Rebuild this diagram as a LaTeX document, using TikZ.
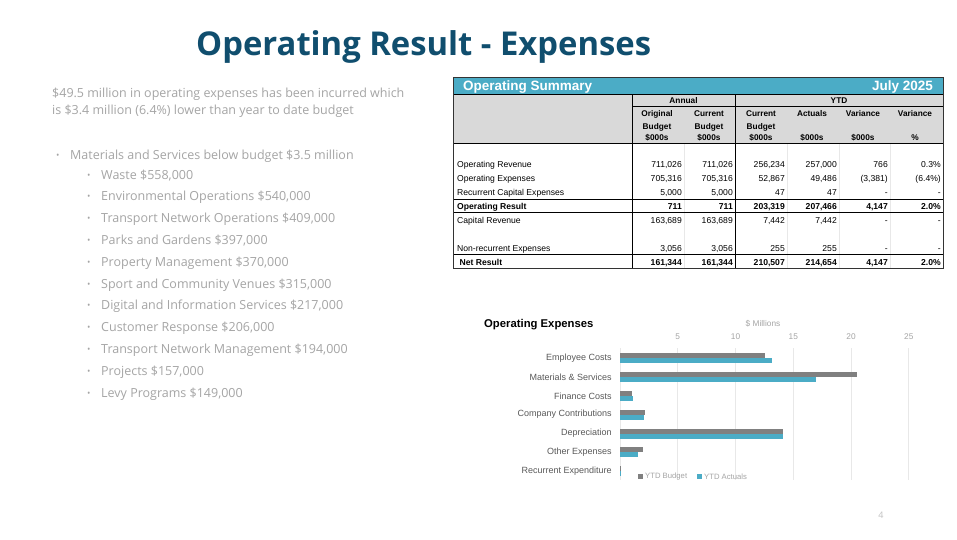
\documentclass[tikz,border=0pt]{standalone}
\usepackage{fontspec}
\setmainfont{Open Sans}
\newfontfamily\tablefont{Liberation Sans}
\usepackage{tikz}
\usetikzlibrary{positioning}

\definecolor{titleblue}{RGB}{16,78,110}
\definecolor{bodygrey}{RGB}{165,165,165}
\definecolor{sumteal}{RGB}{75,172,198}
\definecolor{headgrey}{RGB}{217,217,217}
\definecolor{budgrey}{RGB}{128,128,128}
\definecolor{labgrey}{RGB}{89,89,89}
\definecolor{gridgrey}{RGB}{232,232,232}

% una fila de la tabla: nombre, linea base, etiqueta y seis valores
\newcommand{\sumrow}[9]{%
    \node[rowlab] (#1) at (457,#2) {#3};
    \node[cell] (#1-ob) at (682,#2) {#4};
    \node[cell] (#1-cb) at (733,#2) {#5};
    \node[cell] (#1-cy) at (785,#2) {#6};
    \node[cell] (#1-ac) at (837,#2) {#7};
    \node[cell] (#1-va) at (888,#2) {#8};
    \node[cell] (#1-vp) at (941,#2) {#9};
}

\begin{document}
\begin{tikzpicture}[
    x=1pt, y=-1pt, % una unidad = un pixel, y hacia abajo
    slide/.style={anchor=base west, inner sep=0pt, text=bodygrey, font=\fontsize{12.5}{14}\selectfont}, % texto de la diapositiva
    rowlab/.style={anchor=base west, inner sep=0pt, font=\tablefont\fontsize{8.6}{10}\selectfont}, % etiquetas de fila
    cell/.style={anchor=base east, inner sep=0pt, font=\tablefont\fontsize{8.6}{10}\selectfont}, % celdas numericas
    colhead/.style={anchor=base, inner sep=0pt, font=\tablefont\bfseries\fontsize{8.3}{10}\selectfont}, % cabeceras
    catlab/.style={anchor=east, inner sep=0pt, text=labgrey, font=\tablefont\fontsize{9}{10}\selectfont}, % categorias del grafico
    tick/.style={anchor=center, inner sep=0pt, text=bodygrey, font=\tablefont\fontsize{8.3}{9}\selectfont} % numeros del eje
]
    \useasboundingbox[fill=white] (0,0) rectangle (957,539);

    % --- Titulo ---
    \node[anchor=base west, inner sep=0pt, text=titleblue, font=\bfseries\fontsize{32.8}{38}\selectfont] (title) at (196,55) {Operating Result - Expenses};

    % --- Texto de la izquierda ---
    \node[slide] (intro1) at (52,97) {\$49.5 million in operating expenses has been incurred which};
    \node[slide] (intro2) at (52,114) {is \$3.4 million (6.4\%) lower than year to date budget};
    \node[slide, font=\fontsize{9}{10}\selectfont] (matbul) at (56,158) {\textbullet};
    \node[slide] (mat) at (70,159) {Materials and Services below budget \$3.5 million};
    \foreach \item [count=\i] in {Waste \$558{,}000, Environmental Operations \$540{,}000,
        Transport Network Operations \$409{,}000, Parks and Gardens \$397{,}000,
        Property Management \$370{,}000, Sport and Community Venues \$315{,}000,
        Digital and Information Services \$217{,}000, Customer Response \$206{,}000,
        Transport Network Management \$194{,}000, Projects \$157{,}000, Levy Programs \$149{,}000}
    {
        \node[slide, font=\fontsize{9}{10}\selectfont] (bul\i) at (87,{178+21.8*(\i-1)}) {\textbullet};
        \node[slide] (sub\i) at (101,{179+21.8*(\i-1)}) {\item};
    }

    % --- Tabla: fondos ---
    \fill[sumteal] (453,77) rectangle (943,94); % barra del titulo
    \fill[headgrey] (453,94) rectangle (943,143); % cabecera gris
    \foreach \cx in {684,787,839,890}
        \draw[gridgrey, line width=0.6pt] (\cx,143) -- (\cx,268); % lineas suaves entre columnas

    % --- Tabla: lineas ---
    \draw[line width=0.6pt] (453,94) -- (943,94);
    \draw[line width=0.6pt] (632,106.5) -- (943,106.5);
    \draw[line width=0.6pt] (453,143) -- (943,143);
    \draw[line width=1pt] (453,199.5) -- (943,199.5); % arriba de Operating Result
    \draw[line width=1pt] (453,212) -- (943,212);
    \draw[line width=1pt] (453,254.5) -- (943,254.5); % arriba de Net Result
    \draw[line width=1pt] (632,94) -- (632,268);
    \draw[line width=1pt] (735,94) -- (735,268);
    \draw[line width=1pt, black!80] (453,77) rectangle (943,268); % borde exterior

    % --- Tabla: cabeceras ---
    \node[anchor=base west, inner sep=0pt, text=white, font=\tablefont\bfseries\fontsize{13.5}{15}\selectfont] (sumtitle) at (463,90) {Operating Summary};
    \node[anchor=base east, inner sep=0pt, text=white, font=\tablefont\bfseries\fontsize{13.5}{15}\selectfont] (month) at (933,90) {July 2025};
    \node[colhead] (annual) at (683.5,103) {Annual};
    \node[colhead] (ytd) at (839,103) {YTD};
    \foreach \cx/\ta/\tb/\tc [count=\i] in {657/Original/Budget/\$000s, 709/Current/Budget/\$000s,
        761/Current/Budget/\$000s, 812/Actuals//\$000s, 863/Variance//\$000s, 915/Variance//\%}
    {
        \node[colhead] (h\i a) at (\cx,116.5) {\ta};
        \node[colhead] (h\i b) at (\cx,129) {\tb};
        \node[colhead] (h\i c) at (\cx,140.5) {\tc};
    }

    % --- Tabla: filas ---
    \sumrow{oprev}{167}{Operating Revenue}{711,026}{711,026}{256,234}{257,000}{766}{0.3\%}
    \sumrow{opexp}{181}{Operating Expenses}{705,316}{705,316}{52,867}{49,486}{(3,381)}{(6.4\%)}
    \sumrow{recap}{195}{Recurrent Capital Expenses}{5,000}{5,000}{47}{47}{-}{-}
    \sumrow{opres}{209}{\textbf{Operating Result}}{\textbf{711}}{\textbf{711}}{\textbf{203,319}}{\textbf{207,466}}{\textbf{4,147}}{\textbf{2.0\%}}
    \sumrow{caprev}{223}{Capital Revenue}{163,689}{163,689}{7,442}{7,442}{-}{-}
    \sumrow{nonrec}{251}{Non-recurrent Expenses}{3,056}{3,056}{255}{255}{-}{-}
    \sumrow{netres}{265}{\textbf{\ Net Result}}{\textbf{161,344}}{\textbf{161,344}}{\textbf{210,507}}{\textbf{214,654}}{\textbf{4,147}}{\textbf{2.0\%}}

    % --- Grafico de barras ---
    \node[anchor=base west, inner sep=0pt, font=\tablefont\bfseries\fontsize{11.3}{13}\selectfont] (chtitle) at (484,327) {Operating Expenses};
    \node[tick] (units) at (763,324) {\$ Millions};
    \begin{scope}[shift={(620,0)}, x=11.55pt] % una unidad = un millon
        \draw[gridgrey, line width=0.6pt] (0,348) -- (0,480);
        \foreach \v in {5,10,15,20,25}
        {
            \draw[gridgrey, line width=0.6pt] (\v,348) -- (\v,480);
            \node[tick] (t\v) at (\v,337) {\v};
        }
        \foreach \cy/\bud/\act/\lab in {358/12.55/13.2/Employee Costs, 377/20.5/17.0/Materials \& Services,
            396/1.07/1.1/Finance Costs, 414.5/2.2/2.05/Company Contributions, 433.5/14.1/14.1/Depreciation,
            452/2.0/1.6/Other Expenses, 471/0.02/0.03/Recurrent Expenditure}
        {
            \fill[budgrey] (0,\cy-5) rectangle (\bud,\cy); % YTD Budget
            \fill[sumteal] (0,\cy) rectangle (\act,\cy+5); % YTD Actuals
            \node[catlab] at (-0.7,\cy) {\lab};
        }
    \end{scope}

    % --- Leyenda ---
    \fill[budgrey] (638,474) rectangle (643,479);
    \node[tick, anchor=west, font=\tablefont\fontsize{7.7}{9}\selectfont] (legbud) at (645,476.5) {YTD Budget};
    \fill[sumteal] (697,474) rectangle (702,479);
    \node[tick, anchor=west, font=\tablefont\fontsize{7.7}{9}\selectfont] (legact) at (704,476.5) {YTD Actuals};

    % --- Numero de pagina ---
    \node[inner sep=0pt, text=bodygrey!70, font=\fontsize{9}{10}\selectfont] (page) at (881,515) {4};
\end{tikzpicture}
\end{document}
